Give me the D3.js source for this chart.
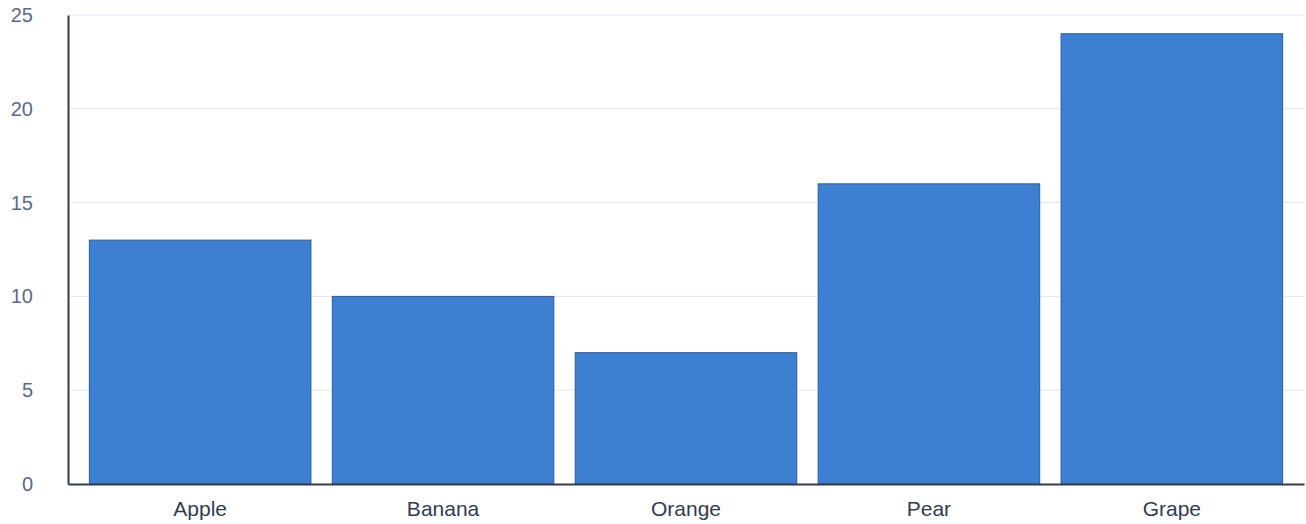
<!DOCTYPE html>
<html lang="en">
  <head>
    <meta charset="UTF-8" />
    <title>Fruit Bar Chart</title>
    <style>
      body {
        margin: 0;
        padding: 0;
        background-color: #ffffff;
        font-family: "Liberation Sans", Arial, sans-serif;
      }
      #chart {
        width: 1306px;
        height: 524px;
      }
    </style>
  </head>
  <body>
    <div id="chart"></div>

    <script src="https://d3js.org/d3.v7.min.js"></script>
    <script>
      const categories = ["Apple", "Banana", "Orange", "Pear", "Grape"];
      const values = [13, 10, 7, 16, 24];
      const yTicks = [0, 5, 10, 15, 20, 25];

      const width = 1306,
        height = 524;
      const margin = { top: 15, right: 2, bottom: 40, left: 68 };

      const svg = d3
        .select("#chart")
        .append("svg")
        .attr("width", width)
        .attr("height", height);

      const x = d3
        .scaleBand()
        .domain(categories)
        .range([margin.left, width - margin.right])
        .paddingInner(0.088)
        .paddingOuter(0.088);

      const y = d3
        .scaleLinear()
        .domain([0, 25])
        .range([height - margin.bottom, margin.top]);

      // grid lines
      svg
        .append("g")
        .selectAll("line")
        .data(yTicks.filter((d) => d > 0))
        .enter()
        .append("line")
        .attr("x1", margin.left)
        .attr("x2", width - margin.right)
        .attr("y1", (d) => y(d))
        .attr("y2", (d) => y(d))
        .attr("stroke", "#e0e6f1")
        .attr("stroke-width", 1);

      // bars
      svg
        .append("g")
        .selectAll("rect")
        .data(values)
        .enter()
        .append("rect")
        .attr("x", (d, i) => x(categories[i]))
        .attr("y", (d) => y(d))
        .attr("width", x.bandwidth())
        .attr("height", (d) => y(0) - y(d))
        .attr("fill", "#3d7fd1")
        .attr("stroke", "#2a5aa3")
        .attr("stroke-width", 1);

      // y axis
      const yAxis = svg
        .append("g")
        .attr("transform", `translate(${margin.left},0)`)
        .call(d3.axisLeft(y).tickValues(yTicks).tickSize(0).tickPadding(35));
      yAxis.select(".domain").attr("stroke", "#333a4d").attr("stroke-width", 2);
      yAxis
        .selectAll("text")
        .attr("fill", "#5b6988")
        .style("font-size", "20px")
        .style("font-family", "'Liberation Sans', Arial, sans-serif");

      // x axis
      const xAxis = svg
        .append("g")
        .attr("transform", `translate(0,${y(0)})`)
        .call(d3.axisBottom(x).tickSize(0).tickPadding(17));
      xAxis.select(".domain").attr("stroke", "#333a4d").attr("stroke-width", 2);
      xAxis
        .selectAll("text")
        .attr("fill", "#343c52")
        .style("font-size", "21px")
        .style("font-family", "'Liberation Sans', Arial, sans-serif");
    </script>
  </body>
</html>
